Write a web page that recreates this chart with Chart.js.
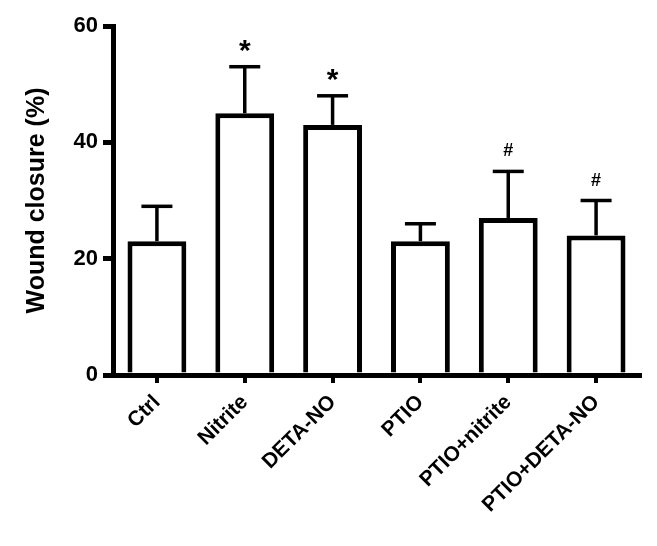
<!DOCTYPE html>
<html>
<head>
<meta charset="utf-8">
<script src="https://cdn.jsdelivr.net/npm/chart.js@4"></script>
<style>
  html, body { margin: 0; padding: 0; background: #fff; }
  #wrap { width: 657px; height: 546px; }
</style>
</head>
<body>
<div id="wrap"><canvas id="c" width="657" height="546"></canvas></div>
<script>
const categories = ["Ctrl", "Nitrite", "DETA-NO", "PTIO", "PTIO+nitrite", "PTIO+DETA-NO"];
const means = [23, 45, 43, 23, 27, 24];
const errorTops = [29, 53, 48, 26, 35, 30];
const marks = ["", "*", "*", "", "#", "#"];
const yTicks = [0, 20, 40, 60];

const FONT = "'Liberation Sans', Arial, sans-serif";

const errorBarPlugin = {
  id: 'errorBars',
  afterDatasetsDraw(chart) {
    const ctx = chart.ctx;
    const meta = chart.getDatasetMeta(0);
    const yScale = chart.scales.y;
    ctx.save();
    ctx.strokeStyle = '#000';
    ctx.fillStyle = '#000';
    meta.data.forEach((bar, i) => {
      const x = bar.x;
      const yTop = yScale.getPixelForValue(errorTops[i]);
      const yBar = yScale.getPixelForValue(means[i]);
      ctx.lineWidth = 3.5;
      ctx.beginPath();
      ctx.moveTo(x, yBar);
      ctx.lineTo(x, yTop);
      ctx.stroke();
      ctx.beginPath();
      ctx.moveTo(x - 15.5, yTop);
      ctx.lineTo(x + 15.5, yTop);
      ctx.stroke();
      if (marks[i]) {
        ctx.textAlign = 'center';
        ctx.textBaseline = 'alphabetic';
        if (marks[i] === '*') {
          ctx.font = 'bold 30px ' + FONT;
          ctx.fillText(marks[i], x, yTop - 7);
        } else {
          ctx.font = 'bold 18px ' + FONT;
          ctx.fillText(marks[i], x, yTop - 15);
        }
      }
    });
    ctx.restore();
  }
};

new Chart(document.getElementById('c'), {
  type: 'bar',
  data: {
    labels: categories,
    datasets: [{
      data: means,
      backgroundColor: '#ffffff',
      borderColor: '#000000',
      borderWidth: 5,
      borderSkipped: 'start',
      barPercentage: 0.67,
      categoryPercentage: 1.0
    }]
  },
  options: {
    responsive: false,
    animation: false,
    devicePixelRatio: 1,
    layout: { padding: { left: 0, right: 17, top: 26, bottom: 0 } },
    plugins: {
      legend: { display: false },
      tooltip: { enabled: false }
    },
    scales: {
      x: {
        offset: true,
        grid: {
          display: true,
          drawOnChartArea: false,
          drawTicks: true,
          tickLength: 8,
          lineWidth: 4,
          color: '#000',
          offset: false
        },
        border: { display: true, color: '#000', width: 5 },
        ticks: {
          color: '#000',
          font: { family: FONT, size: 21, weight: 'bold' },
          minRotation: 45,
          maxRotation: 45,
          padding: 7,
          autoSkip: false
        },
        afterFit(scale) { scale.height = 171; }
      },
      y: {
        min: 0,
        max: 60,
        afterBuildTicks(scale) { scale.ticks = yTicks.map(v => ({ value: v })); },
        grid: {
          display: true,
          drawOnChartArea: false,
          drawTicks: true,
          tickLength: 10,
          lineWidth: 5,
          color: '#000'
        },
        border: { display: true, color: '#000', width: 5 },
        ticks: {
          color: '#000',
          font: { family: FONT, size: 22, weight: 'bold' },
          padding: 5
        },
        title: {
          display: true,
          text: 'Wound closure (%)',
          color: '#000',
          font: { family: FONT, size: 25, weight: 'bold' },
          padding: { top: 22, bottom: 0 }
        },
        afterFit(scale) { scale.width = 113; }
      }
    }
  },
  plugins: [errorBarPlugin]
});
</script>
</body>
</html>
